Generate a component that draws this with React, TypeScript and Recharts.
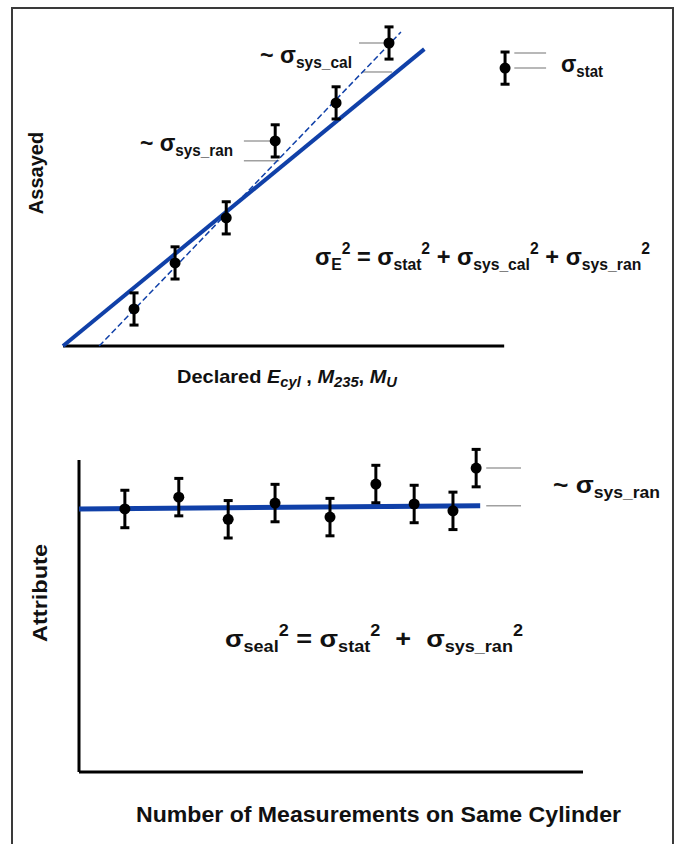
import React from "react";
import {
  ComposedChart,
  Scatter,
  ErrorBar,
  XAxis,
  YAxis,
  ReferenceLine,
} from "recharts";

const FONT = '"Liberation Sans", Arial, sans-serif';
const BLUE = "#1040A8";
const GREY = "#a0a0a0";

// top panel: assayed vs declared (arbitrary units)
const declared = [1.61, 2.54, 3.7, 4.81, 6.19, 7.39];
const assayed = [1.15, 2.58, 3.98, 6.37, 7.55, 9.41];
const assayErr = [0.5, 0.5, 0.5, 0.5, 0.5, 0.5];
const solidFit = [
  { x: 0, y: 0 },
  { x: 8.19, y: 9.22 },
];
const dashedFit = [
  { x: 0.82, y: 0 },
  { x: 7.66, y: 9.75 },
];
const keyPoint = [{ x: 10.02, y: 8.63, err: 0.5 }];
// little grey level marks: y level, x from, x to
const topMarks = [
  { y: 6.37, x1: 4.1, x2: 4.82 },
  { y: 5.75, x1: 4.1, x2: 4.9 },
  { y: 9.41, x1: 6.71, x2: 7.39 },
  { y: 8.51, x1: 6.78, x2: 7.46 },
  { y: 9.1, x1: 10.23, x2: 10.95 },
  { y: 8.63, x1: 10.23, x2: 10.95 },
];

// bottom panel: attribute vs measurement number
const measNo = [0.91, 1.98, 2.96, 3.89, 4.98, 5.89, 6.65, 7.42, 7.88];
const attribute = [8.43, 8.81, 8.1, 8.62, 8.17, 9.23, 8.59, 8.37, 9.74];
const attrErr = [0.6, 0.6, 0.6, 0.6, 0.6, 0.6, 0.6, 0.6, 0.6];
const meanLine = [
  { x: 0, y: 8.43 },
  { x: 7.96, y: 8.53 },
];
const bottomMarks = [
  { y: 9.74, x1: 8.08, x2: 8.77 },
  { y: 8.53, x1: 8.08, x2: 8.77 },
];

const topData = declared.map((x, i) => ({ x, y: assayed[i], err: assayErr[i] }));
const bottomData = measNo.map((x, i) => ({ x, y: attribute[i], err: attrErr[i] }));

const dot = (p: any) => <circle cx={p.cx} cy={p.cy} r={5.5} fill="#000" />;

type Piece = [string, "n" | "b" | "p"];

function MathText({
  x,
  y,
  size,
  small,
  len,
  parts,
}: {
  x: number;
  y: number;
  size: number;
  small: number;
  len: number;
  parts: Piece[];
}) {
  return (
    <text
      x={x}
      y={y}
      fontSize={size}
      fontWeight="bold"
      fill="#111"
      textLength={len}
      lengthAdjust="spacingAndGlyphs"
      style={{ whiteSpace: "pre" }}
    >
      {parts.map(([t, k], i) => (
        <tspan
          key={i}
          y={k === "b" ? y + 5 : k === "p" ? y - 11 : y}
          fontSize={k === "n" ? size : small}
        >
          {t}
        </tspan>
      ))}
    </text>
  );
}

export default function App() {
  return (
    <div
      style={{
        position: "absolute",
        left: 0,
        top: 0,
        width: 678,
        height: 844,
        background: "#fff",
        overflow: "hidden",
        fontFamily: FONT,
      }}
    >
      <div
        style={{
          position: "absolute",
          left: 11,
          top: 7,
          width: 663,
          height: 870,
          border: "2px solid #3a3a3a",
          boxSizing: "border-box",
        }}
      />

      <div style={{ position: "absolute", left: 0, top: 0 }}>
        <ComposedChart
          width={678}
          height={400}
          margin={{ top: 24, right: 15, bottom: 54, left: 63 }}
        >
          <XAxis type="number" dataKey="x" domain={[0, 13.6]} hide />
          <YAxis
            type="number"
            dataKey="y"
            domain={[0, 10]}
            width={0}
            tick={false}
            tickLine={false}
            axisLine={{ stroke: "#000", strokeWidth: 3 }}
          />
          <ReferenceLine
            segment={[
              { x: 0, y: 0 },
              { x: 10, y: 0 },
            ]}
            stroke="#000"
            strokeWidth={3}
            ifOverflow="visible"
          />
          {topMarks.map((m, i) => (
            <ReferenceLine
              key={i}
              segment={[
                { x: m.x1, y: m.y },
                { x: m.x2, y: m.y },
              ]}
              stroke={GREY}
              strokeWidth={1.5}
              ifOverflow="visible"
            />
          ))}
          <ReferenceLine
            segment={dashedFit}
            stroke={BLUE}
            strokeWidth={1.5}
            strokeDasharray="6 3"
            ifOverflow="visible"
          />
          <ReferenceLine
            segment={solidFit}
            stroke={BLUE}
            strokeWidth={4}
            ifOverflow="visible"
          />
          <Scatter data={topData} shape={dot} isAnimationActive={false}>
            <ErrorBar
              dataKey="err"
              direction="y"
              width={4.5}
              stroke="#000"
              strokeWidth={3}
              isAnimationActive={false}
            />
          </Scatter>
          <Scatter data={keyPoint} shape={dot} isAnimationActive={false}>
            <ErrorBar
              dataKey="err"
              direction="y"
              width={4.5}
              stroke="#000"
              strokeWidth={3}
              isAnimationActive={false}
            />
          </Scatter>
        </ComposedChart>
      </div>

      <div style={{ position: "absolute", left: 0, top: 420 }}>
        <ComposedChart
          width={678}
          height={400}
          margin={{ top: 8.8, right: 95, bottom: 48, left: 79 }}
        >
          <XAxis type="number" dataKey="x" domain={[0, 10]} hide />
          <YAxis type="number" dataKey="y" domain={[0, 11]} hide />
          <ReferenceLine
            segment={[
              { x: 0, y: 0 },
              { x: 10, y: 0 },
            ]}
            stroke="#000"
            strokeWidth={3}
            ifOverflow="visible"
          />
          <ReferenceLine
            segment={[
              { x: 0, y: 0 },
              { x: 0, y: 10 },
            ]}
            stroke="#000"
            strokeWidth={3}
            ifOverflow="visible"
          />
          {bottomMarks.map((m, i) => (
            <ReferenceLine
              key={i}
              segment={[
                { x: m.x1, y: m.y },
                { x: m.x2, y: m.y },
              ]}
              stroke={GREY}
              strokeWidth={1.5}
              ifOverflow="visible"
            />
          ))}
          <ReferenceLine
            segment={meanLine}
            stroke={BLUE}
            strokeWidth={5}
            ifOverflow="visible"
          />
          <Scatter data={bottomData} shape={dot} isAnimationActive={false}>
            <ErrorBar
              dataKey="err"
              direction="y"
              width={4.5}
              stroke="#000"
              strokeWidth={3}
              isAnimationActive={false}
            />
          </Scatter>
        </ComposedChart>
      </div>

      <svg
        width={678}
        height={844}
        style={{ position: "absolute", left: 0, top: 0, pointerEvents: "none" }}
        fontFamily={FONT}
      >
        <text
          transform="rotate(-90)"
          x={-173}
          y={43}
          textAnchor="middle"
          fontSize={20}
          fontWeight="bold"
          fill="#111"
        >
          Assayed
        </text>
        <text
          transform="rotate(-90)"
          x={-593}
          y={47}
          textAnchor="middle"
          fontSize={21}
          fontWeight="bold"
          fill="#111"
          textLength={98}
          lengthAdjust="spacingAndGlyphs"
        >
          Attribute
        </text>
        <text
          x={177}
          y={383}
          fontSize={19}
          fontWeight="bold"
          fill="#111"
          textLength={220}
          lengthAdjust="spacingAndGlyphs"
        >
          Declared{" "}
          <tspan fontStyle="italic">E</tspan>
          <tspan fontStyle="italic" fontSize={14} y={387}>cyl</tspan>
          <tspan y={383}> , </tspan>
          <tspan fontStyle="italic">M</tspan>
          <tspan fontStyle="italic" fontSize={14} y={387}>235</tspan>
          <tspan y={383}>, </tspan>
          <tspan fontStyle="italic">M</tspan>
          <tspan fontStyle="italic" fontSize={14} y={387}>U</tspan>
        </text>
        <text
          x={136}
          y={822}
          fontSize={22}
          fontWeight="bold"
          fill="#111"
          textLength={485}
          lengthAdjust="spacingAndGlyphs"
        >
          Number of Measurements on Same Cylinder
        </text>

        <MathText x={260} y={63} size={24} small={16} len={92} parts={[["~ σ", "n"], ["sys_cal", "b"]]} />
        <MathText x={140} y={151} size={24} small={16} len={93} parts={[["~ σ", "n"], ["sys_ran", "b"]]} />
        <MathText x={561} y={72} size={24} small={16} len={42} parts={[["σ", "n"], ["stat", "b"]]} />
        <MathText x={553} y={493} size={24} small={16} len={107} parts={[["~ σ", "n"], ["sys_ran", "b"]]} />
        <MathText
          x={315}
          y={265}
          size={24}
          small={16}
          len={335}
          parts={[
            ["σ", "n"], ["E", "b"], ["2", "p"],
            [" = σ", "n"], ["stat", "b"], ["2", "p"],
            [" + σ", "n"], ["sys_cal", "b"], ["2", "p"],
            [" + σ", "n"], ["sys_ran", "b"], ["2", "p"],
          ]}
        />
        <MathText
          x={225}
          y={647}
          size={24}
          small={16}
          len={298}
          parts={[
            ["σ", "n"], ["seal", "b"], ["2", "p"],
            [" = σ", "n"], ["stat", "b"], ["2", "p"],
            ["  +  σ", "n"], ["sys_ran", "b"], ["2", "p"],
          ]}
        />
      </svg>
    </div>
  );
}
